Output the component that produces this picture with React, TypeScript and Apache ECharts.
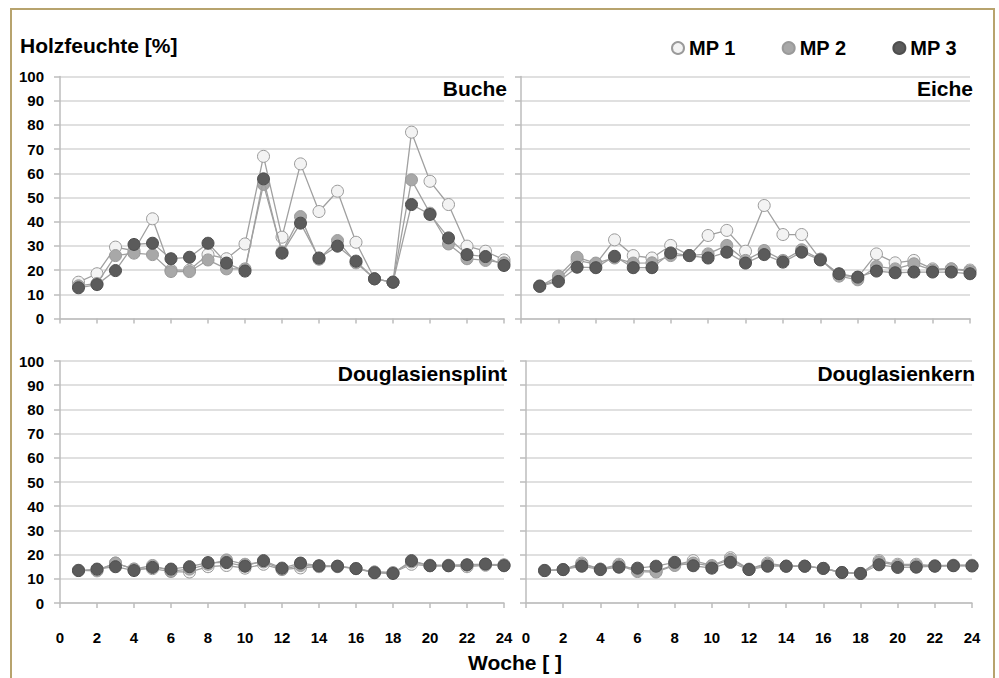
import React, { useEffect, useRef } from "react";
import * as echarts from "echarts";

const weeks = [1, 2, 3, 4, 5, 6, 7, 8, 9, 10, 11, 12, 13, 14, 15, 16, 17, 18, 19, 20, 21, 22, 23, 24];
const seriesNames = ["MP 1", "MP 2", "MP 3"];
const panelTitles = ["Buche", "Eiche", "Douglasiensplint", "Douglasienkern"];
const xTicks = [0, 2, 4, 6, 8, 10, 12, 14, 16, 18, 20, 22, 24];
const yTicks = [0, 10, 20, 30, 40, 50, 60, 70, 80, 90, 100];

const bucheMP1 = [15, 18.5, 29.5, 28, 41.2, 20, 20, 26.4, 24.7, 30.8, 67, 33.6, 63.9, 44.2, 52.6, 31.5, 16.4, 15, 77, 56.7, 47.1, 29.9, 27.8, 24.2];
const bucheMP2 = [13.5, 14.5, 26, 27, 26.4, 19.4, 19.4, 24.2, 20.5, 20.5, 55.4, 27.5, 42.1, 24.5, 32.2, 23, 16.4, 15, 57.3, 43.5, 30.8, 24.7, 24, 23];
const bucheMP3 = [12.7, 14, 19.8, 30.6, 31.1, 24.7, 25.3, 31.1, 22.9, 19.6, 57.7, 27, 39.4, 25, 29.9, 23.7, 16.4, 15, 47.1, 43, 33.3, 26.4, 25.6, 21.9];

const eicheMP1 = [13.5, 16, 24, 22.5, 32.5, 26, 25, 30.2, 26, 34.3, 36.4, 27.8, 46.7, 34.7, 34.7, 24.5, 18, 17, 26.7, 23, 24, 20.5, 20.5, 20];
const eicheMP2 = [13.3, 17.5, 25.3, 22.9, 25, 22.9, 23, 26, 26, 26.7, 30.2, 24, 28.1, 24, 28.4, 24.5, 17.5, 16, 21.5, 20.5, 22.6, 20, 20.5, 19.5];
const eicheMP3 = [13.3, 15.3, 21.2, 21, 25.7, 21, 21, 27.1, 26, 25, 27.4, 22.9, 26.4, 23.3, 27.4, 24.2, 18.5, 17.1, 19.6, 18.9, 19.2, 19.2, 19.2, 18.5];

const splintMP1 = [13.5, 13.3, 16.5, 14, 14.2, 13, 12.8, 15, 15.5, 14.4, 16, 13.8, 14.5, 15, 15, 14.2, 12.8, 12.5, 16, 15.4, 15.4, 15, 15.6, 15.6];
const splintMP2 = [13.5, 13.6, 16.5, 14, 15.5, 13.2, 14, 16, 17.8, 16, 17, 14, 15.5, 15.2, 15.2, 14.3, 12.8, 12.5, 17, 15.6, 15.6, 15.6, 16, 15.8];
const splintMP3 = [13.4, 14, 15, 13.4, 14.7, 14, 15, 16.7, 16.7, 15.2, 17.5, 14.4, 16.5, 15.4, 15.2, 14.2, 12.5, 12.2, 17.5, 15.4, 15.4, 15.8, 16.1, 15.4];

const kernMP1 = [13.5, 13.8, 16.5, 14, 16, 13.5, 13.2, 15.8, 17.5, 15.5, 18.7, 14, 16.5, 15.2, 15.2, 14.3, 12.6, 12.2, 17.5, 16, 16, 15.4, 15.6, 15.6];
const kernMP2 = [13.4, 13.8, 16, 14, 15.5, 13, 12.8, 15.5, 16.5, 15.2, 18, 13.9, 16, 15.2, 15.2, 14.3, 12.6, 12.2, 17, 15.5, 15.5, 15.3, 15.5, 15.5];
const kernMP3 = [13.4, 13.8, 15.2, 13.8, 14.8, 14.4, 15.2, 16.8, 15.4, 14.4, 16.8, 13.8, 15.2, 15.2, 15.2, 14.3, 12.6, 12.2, 15.8, 14.7, 14.8, 15.2, 15.4, 15.3];

const panelData = [
  [bucheMP1, bucheMP2, bucheMP3],
  [eicheMP1, eicheMP2, eicheMP3],
  [splintMP1, splintMP2, splintMP3],
  [kernMP1, kernMP2, kernMP3],
];

const FONT = "'Liberation Sans', Arial, sans-serif";

export default function App() {
  const ref = useRef<HTMLDivElement>(null);

  useEffect(() => {
    if (!ref.current) return;
    const chart = echarts.init(ref.current, undefined, { renderer: "svg" });

    const grids = [
      { left: 60, top: 76.5, width: 444, height: 242 },
      { left: 521, top: 76.5, width: 449, height: 242 },
      { left: 60, top: 361, width: 444, height: 242 },
      { left: 526, top: 361, width: 446, height: 242 },
    ];

    const markerStyles = [
      { color: "#f3f3f3", borderColor: "#9a9a9a" },
      { color: "#a8a8a8", borderColor: "#9a9a9a" },
      { color: "#5b5b5b", borderColor: "#4e4e4e" },
    ];

    const axisLineStyle = { color: "#bdbdbd", width: 1.5 };

    const xAxis = grids.map((_, i) => ({
      type: "value",
      gridIndex: i,
      min: xTicks[0],
      max: xTicks[xTicks.length - 1],
      interval: 2,
      axisLine: { show: true, onZero: false, lineStyle: axisLineStyle },
      axisTick: { show: true, inside: false, length: 5, lineStyle: axisLineStyle },
      splitLine: { show: false },
      axisLabel: {
        show: i >= 2,
        color: "#000",
        fontWeight: "bold",
        fontSize: 15,
        fontFamily: FONT,
        margin: 27,
      },
    }));

    const yAxis = grids.map((_, i) => ({
      type: "value",
      gridIndex: i,
      min: yTicks[0],
      max: yTicks[yTicks.length - 1],
      interval: 10,
      axisLine: { show: true, lineStyle: axisLineStyle },
      axisTick: { show: true, inside: false, length: 6, lineStyle: axisLineStyle },
      splitLine: { show: true, lineStyle: { color: "#d6d6d6", width: 1.5 } },
      axisLabel: {
        show: i % 2 === 0,
        color: "#000",
        fontWeight: "bold",
        fontSize: 15,
        fontFamily: FONT,
        margin: 16,
      },
    }));

    const series: any[] = [];
    panelData.forEach((panel, p) => {
      panel.forEach((vals, s) => {
        series.push({
          type: "line",
          name: seriesNames[s],
          xAxisIndex: p,
          yAxisIndex: p,
          data: weeks.map((w, k) => [w, vals[k]]),
          symbol: "circle",
          symbolSize: 12,
          showSymbol: true,
          lineStyle: { color: "#a0a0a0", width: 1.3 },
          itemStyle: { ...markerStyles[s], borderWidth: 1 },
          z: 2 + s,
        });
      });
    });

    const titleElems = panelTitles.map((t, i) => ({
      type: "text",
      x: grids[i].left + grids[i].width + 3,
      y: grids[i].top + 12,
      style: {
        text: t,
        fill: "#000",
        font: `bold 21px ${FONT}`,
        textAlign: "right",
        textVerticalAlign: "middle",
      },
      z: 10,
    }));

    chart.setOption({
      animation: false,
      backgroundColor: "#ffffff",
      grid: grids,
      xAxis,
      yAxis,
      series,
      legend: {
        data: seriesNames,
        left: 666,
        top: 33,
        icon: "circle",
        itemWidth: 12,
        itemHeight: 12,
        itemGap: 46,
        textStyle: { color: "#000", fontWeight: "bold", fontSize: 20, fontFamily: FONT },
      },
      graphic: [
        {
          type: "rect",
          shape: { x: 11, y: 9, width: 983, height: 720 },
          style: { fill: "none", stroke: "#b7a36d", lineWidth: 2 },
          z: -1,
        },
        {
          type: "text",
          x: 20,
          y: 45,
          style: {
            text: "Holzfeuchte [%]",
            fill: "#000",
            font: `bold 21px ${FONT}`,
            textAlign: "left",
            textVerticalAlign: "middle",
          },
        },
        {
          type: "text",
          x: 515,
          y: 662,
          style: {
            text: "Woche [ ]",
            fill: "#000",
            font: `bold 21px ${FONT}`,
            textAlign: "center",
            textVerticalAlign: "middle",
          },
        },
        ...titleElems,
      ],
    });

    return () => chart.dispose();
  }, []);

  return (
    <div
      ref={ref}
      style={{ position: "absolute", left: 0, top: 0, width: 999, height: 678 }}
    />
  );
}
